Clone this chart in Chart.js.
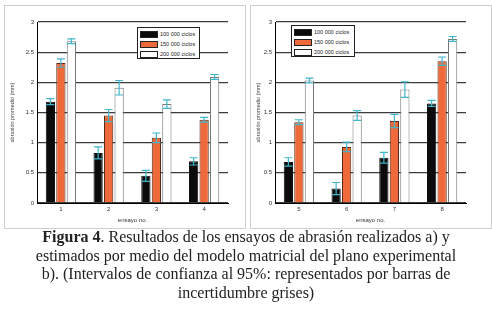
<!DOCTYPE html>
<html lang="es">
<head>
<meta charset="UTF-8">
<title>Figura 4</title>
<script src="https://cdn.jsdelivr.net/npm/chart.js@4.4.0/dist/chart.umd.min.js"></script>
<style>
  body { margin: 0; background: #fff; }
  #fig { position: relative; width: 492px; height: 311px; overflow: hidden; }
  .panel { position: absolute; top: 5px; height: 222px; border: 1px solid #cfcfcf; }
  .chart { position: absolute; top: 0; width: 246px; height: 230px; }
  .legend { position: absolute; border: 1px solid #222; background: #fff; box-sizing: border-box;
            font: 5.5px "Liberation Sans", Arial, sans-serif; color: #222; }
  .legend .row { position: absolute; left: 2px; height: 8px; display: flex; align-items: center; white-space: nowrap; }
  .legend .sw { width: 18px; height: 7px; border: 1px solid #222; box-sizing: border-box; margin-right: 2px; }
  #caption { position: absolute; top: 228px; left: 0; width: 492px; text-align: center;
             font: 16px "Liberation Serif", "DejaVu Serif", serif; line-height: 18.7px; color: #222; }
</style>
</head>
<body>
<div id="fig">
  <div class="panel" style="left:4px;width:240px"></div>
  <div class="panel" style="left:250px;width:240px"></div>
  <div class="chart" style="left:0"><canvas id="chartA"></canvas></div>
  <div class="chart" style="left:246px"><canvas id="chartB"></canvas></div>
  <div class="legend" id="legA" style="left:137px;top:27px;width:63px;height:32px"></div>
  <div class="legend" id="legB" style="left:291px;top:25px;width:64px;height:32px"></div>
  <div id="caption"><b>Figura 4</b>. Resultados de los ensayos de abrasión realizados a) y<br>estimados por medio del modelo matricial del plano experimental<br>b). (Intervalos de confianza al 95%: representados por barras de<br>incertidumbre grises)</div>
</div>

<script>
  //data
  const series = ['100 000 ciclos', '150 000 ciclos', '200 000 ciclos'];
  const colors = ['#0b0b0b', '#ee6a3a', '#ffffff'];
  const borders = ['#111111', '#5a2a18', '#777777'];

  const ensayosA = ['1', '2', '3', '4'];
  const c100A = [1.68, 0.83, 0.45, 0.69];
  const c150A = [2.32, 1.45, 1.08, 1.38];
  const c200A = [2.68, 1.91, 1.64, 2.09];
  const e100A = [0.05, 0.10, 0.09, 0.06];
  const e150A = [0.07, 0.10, 0.08, 0.04];
  const e200A = [0.04, 0.12, 0.07, 0.04];

  const ensayosB = ['5', '6', '7', '8'];
  const c100B = [0.68, 0.24, 0.75, 1.65];
  const c150B = [1.34, 0.93, 1.36, 2.35];
  const c200B = [2.03, 1.45, 1.88, 2.72];
  const e100B = [0.07, 0.10, 0.09, 0.05];
  const e150B = [0.04, 0.08, 0.11, 0.07];
  const e200B = [0.04, 0.08, 0.13, 0.04];

  const yTicks = [0, 0.5, 1, 1.5, 2, 2.5, 3];

  //error bars drawn with the chart's own scales
  const errorBars = {
    id: 'errorBars',
    afterDatasetsDraw(chart) {
      const ctx = chart.ctx, y = chart.scales.y;
      ctx.save();
      ctx.strokeStyle = '#3fb6cc';
      ctx.lineWidth = 1.2;
      chart.data.datasets.forEach((ds, i) => {
        chart.getDatasetMeta(i).data.forEach((bar, j) => {
          const v = ds.data[j], e = ds.errors[j];
          const top = y.getPixelForValue(v + e), bot = y.getPixelForValue(v - e);
          const half = 4;
          ctx.beginPath();
          ctx.moveTo(bar.x, top); ctx.lineTo(bar.x, bot);
          ctx.moveTo(bar.x - half, top); ctx.lineTo(bar.x + half, top);
          ctx.moveTo(bar.x - half, bot); ctx.lineTo(bar.x + half, bot);
          ctx.stroke();
        });
      });
      ctx.restore();
    }
  };

  const tickFont = { family: '"Liberation Sans", Arial, sans-serif', size: 6 };

  function makeChart(id, labels, vals, errs, yWidth, rightPad) {
    return new Chart(document.getElementById(id), {
      type: 'bar',
      data: {
        labels: labels,
        datasets: series.map((s, i) => ({
          label: s,
          data: vals[i],
          errors: errs[i],
          backgroundColor: colors[i],
          borderColor: borders[i],
          borderWidth: 1,
          categoryPercentage: 0.66,
          barPercentage: 0.88
        }))
      },
      options: {
        responsive: true,
        maintainAspectRatio: false,
        animation: false,
        layout: { padding: { top: 22, right: rightPad, left: 0, bottom: 0 } },
        plugins: { legend: { display: false }, tooltip: { enabled: false } },
        scales: {
          x: {
            grid: { display: false, drawTicks: false },
            border: { display: true, color: '#000', width: 1 },
            ticks: { font: tickFont, color: '#333', padding: 3 },
            title: { display: true, text: 'ensayo no.', font: tickFont, color: '#333', padding: { top: 2, bottom: 6 } },
            afterFit(s) { s.height = 27; }
          },
          y: {
            min: 0, max: 3,
            grid: { color: '#3c3c3c', lineWidth: 1.3, drawTicks: false },
            border: { display: true, color: '#000', width: 1 },
            ticks: { font: tickFont, color: '#333', padding: 3, callback: v => String(v) },
            afterBuildTicks(s) { s.ticks = yTicks.map(v => ({ value: v })); },
            title: { display: true, text: 'abrasión promedio (mm)', font: { family: tickFont.family, size: 5.5 }, color: '#444', padding: { top: 9, bottom: 0 } },
            afterFit(s) { s.width = yWidth; }
          }
        }
      },
      plugins: [errorBars]
    });
  }

  const chartA = makeChart('chartA', ensayosA, [c100A, c150A, c200A], [e100A, e150A, e200A], 37, 18);
  const chartB = makeChart('chartB', ensayosB, [c100B, c150B, c200B], [e100B, e150B, e200B], 29, 26);

  //legends
  ['legA', 'legB'].forEach(id => {
    const box = document.getElementById(id);
    series.forEach((s, i) => {
      const row = document.createElement('div');
      row.className = 'row';
      row.style.top = (2 + i * 10) + 'px';
      row.innerHTML = '<span class="sw" style="background:' + colors[i] + '"></span>' + s;
      box.appendChild(row);
    });
  });
</script>
</body>
</html>
